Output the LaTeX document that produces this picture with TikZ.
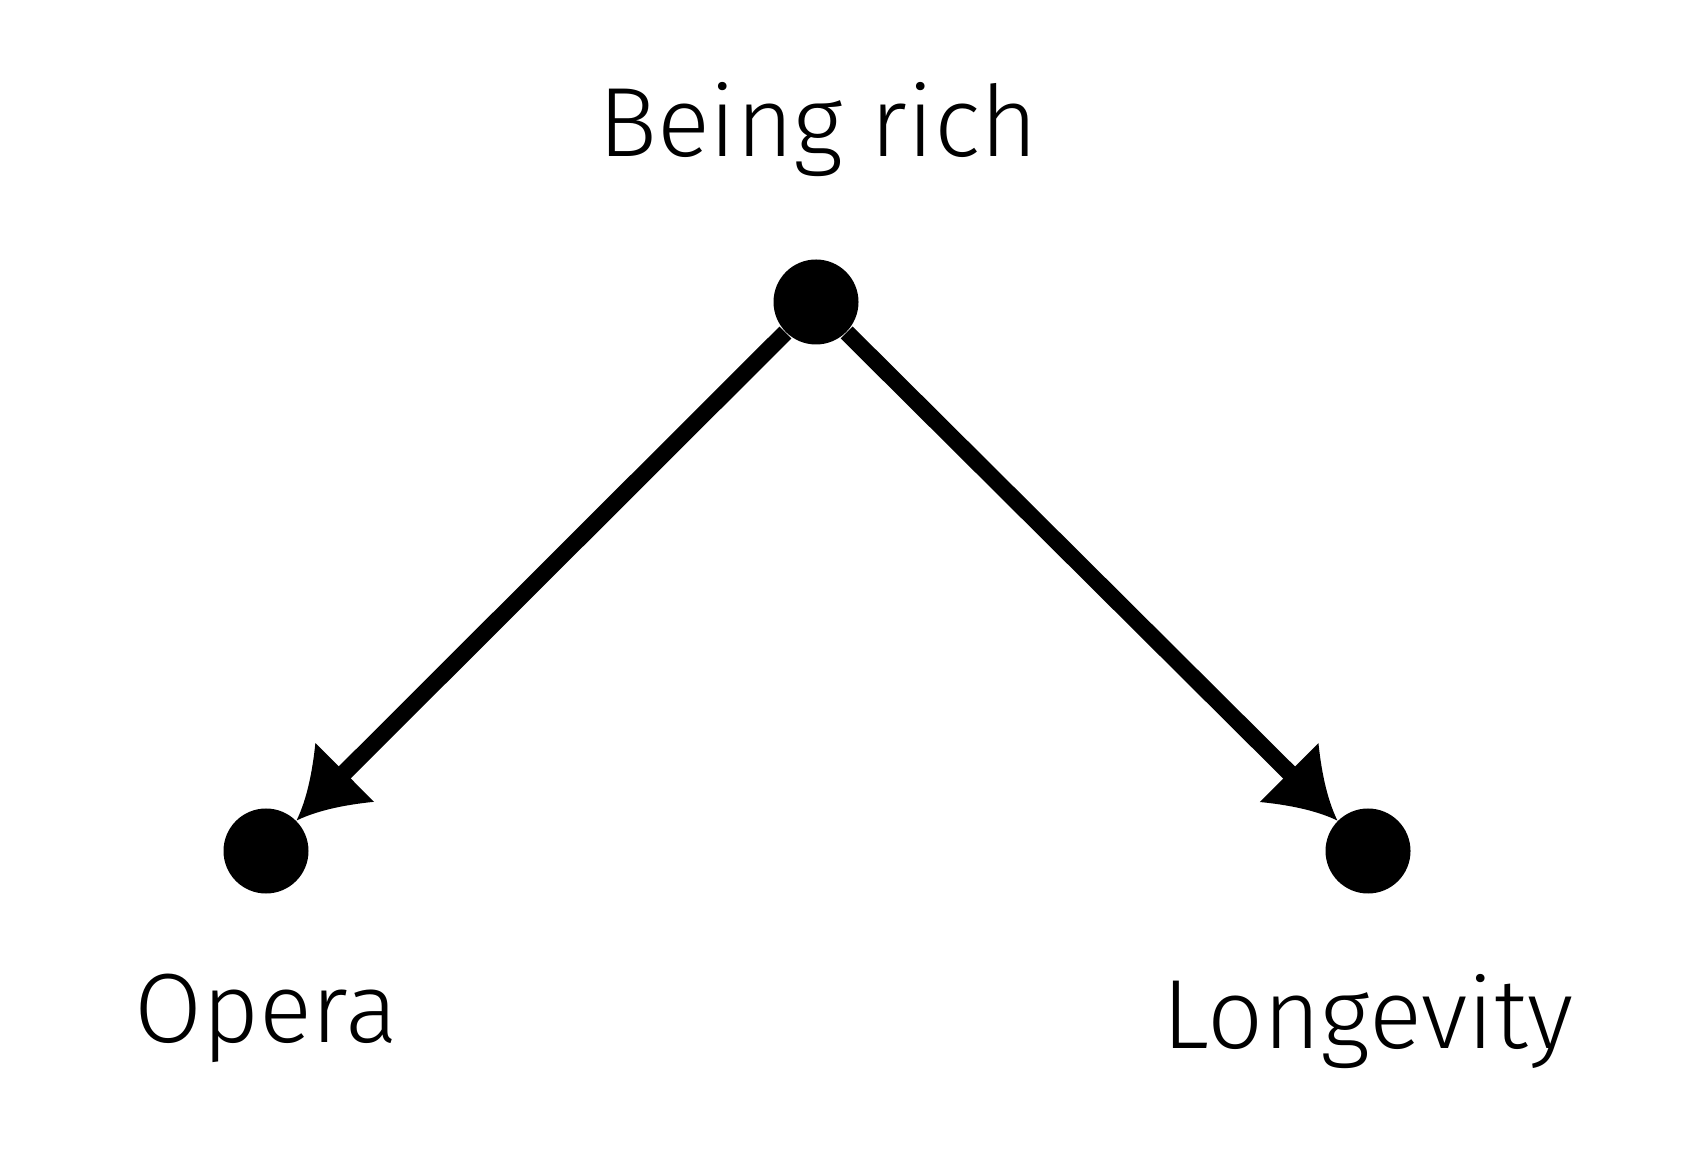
\documentclass[tikz,border=0pt]{standalone}
\usepackage{fontspec}
\setmainfont{Fira Sans}[UprightFont={* Light}]
\usepackage{tikz}
\usetikzlibrary{arrows.meta,positioning}

% filled head with concave sides and a straight back
\pgfdeclarearrow{
  name=Barb,
  parameters={\the\pgfarrowlength,\the\pgfarrowwidth},
  setup code={
    \pgfarrowssettipend{0pt}
    \pgfarrowssetbackend{-\pgfarrowlength}
    \pgfarrowssetlineend{-.6\pgfarrowlength}
    \pgfarrowssavethe\pgfarrowlength
    \pgfarrowssavethe\pgfarrowwidth
  },
  drawing code={
    \pgfpathmoveto{\pgfpointorigin}
    \pgfpathcurveto{\pgfpoint{-.35\pgfarrowlength}{.1\pgfarrowwidth}}{\pgfpoint{-.7\pgfarrowlength}{.3\pgfarrowwidth}}{\pgfpoint{-\pgfarrowlength}{.5\pgfarrowwidth}}
    \pgfpathlineto{\pgfpoint{-\pgfarrowlength}{-.5\pgfarrowwidth}}
    \pgfpathcurveto{\pgfpoint{-.7\pgfarrowlength}{-.3\pgfarrowwidth}}{\pgfpoint{-.35\pgfarrowlength}{-.1\pgfarrowwidth}}{\pgfpointorigin}
    \pgfpathclose
    \pgfusepathqfill
  },
  defaults={length=0.68cm,width=0.83cm}
}

\begin{document}
\begin{tikzpicture}[
  font=\fontsize{28pt}{33pt}\selectfont,
  dot/.style={circle,fill=black,inner sep=0pt,minimum size=0.85cm},
  lab/.style={anchor=base,inner sep=0pt},
  edge/.style={-{Barb},line width=4.8pt},
]
\useasboundingbox (0,0) rectangle (17.07,11.52);
\node[dot] (rich) at (8.16,8.50) {};
\node[dot] (opera) at (2.66,3.01) {};
\node[dot] (long) at (13.68,3.01) {};
\node[lab] (richlab) at (8.18,9.95) {Being rich};
\node[lab] (operalab) at (2.66,1.10) {Opera};
\node[lab] (longlab) at (13.68,1.04) {Longevity};
\draw[edge] (rich) -- (opera);
\draw[edge] (rich) -- (long);
\end{tikzpicture}
\end{document}
